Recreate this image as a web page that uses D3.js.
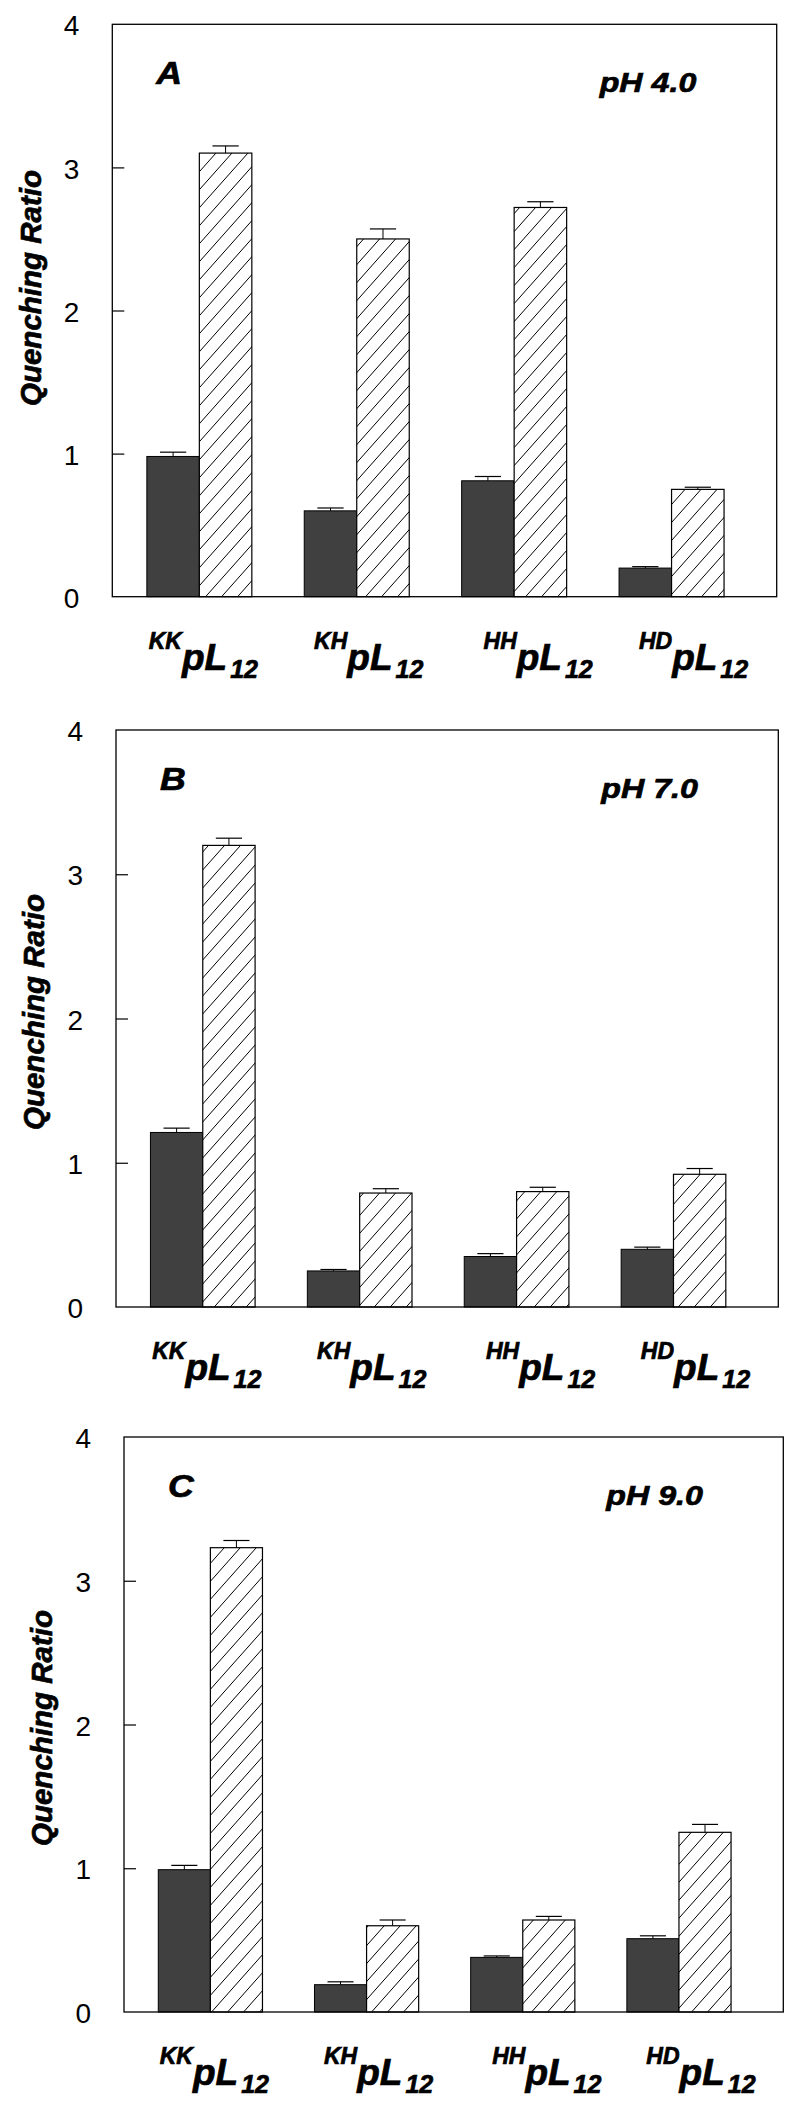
<!DOCTYPE html>
<html><head><meta charset="utf-8">
<script src="https://cdn.jsdelivr.net/npm/d3@7"></script>
<style>body{margin:0;background:#fff} text{font-family:Arial,'Liberation Sans',Helvetica,sans-serif;fill:#000} text.heavy{stroke:#000;stroke-width:0.7px}</style>
</head><body><svg id="c" width="800" height="2109"></svg>
<script>
// ---- data ----
const categories = ["KK", "KH", "HH", "HD"];
const yTicks = [0, 1, 2, 3, 4];
const panelLetters = ["A", "B", "C"];
const phLabels = ["pH 4.0", "pH 7.0", "pH 9.0"];

const darkA = [0.98, 0.60, 0.81, 0.20];
const darkAErr = [0.03, 0.02, 0.03, 0.01];
const hatchA = [3.10, 2.50, 2.72, 0.75];
const hatchAErr = [0.05, 0.07, 0.04, 0.015];

const darkB = [1.21, 0.25, 0.35, 0.40];
const darkBErr = [0.03, 0.01, 0.02, 0.015];
const hatchB = [3.20, 0.79, 0.80, 0.92];
const hatchBErr = [0.05, 0.03, 0.03, 0.04];

const darkC = [0.99, 0.19, 0.38, 0.51];
const darkCErr = [0.03, 0.02, 0.01, 0.02];
const hatchC = [3.23, 0.60, 0.64, 1.25];
const hatchCErr = [0.05, 0.04, 0.025, 0.055];

// ---- layout ----
const boxes = [
  {l: 112.3, r: 776.7, t: 24.3, b: 596.7, titleY: 288},
  {l: 116, r: 778.3, t: 730, b: 1307, titleY: 1012},
  {l: 124, r: 783.3, t: 1437, b: 2012, titleY: 1728}
];
const series = [
  {dark: darkA, darkErr: darkAErr, hatch: hatchA, hatchErr: hatchAErr},
  {dark: darkB, darkErr: darkBErr, hatch: hatchB, hatchErr: hatchBErr},
  {dark: darkC, darkErr: darkCErr, hatch: hatchC, hatchErr: hatchCErr}
];
const labelShift = [4, 12, 24, 22];
const barW = 0.3335;
const FONT = "Arial,'Liberation Sans',Helvetica,sans-serif";

const svg = d3.select("#c");
const defs = svg.append("defs");
const pat = defs.append("pattern").attr("id", "hatch")
  .attr("patternUnits", "userSpaceOnUse").attr("width", 16).attr("height", 18);
pat.append("rect").attr("width", 16).attr("height", 18).attr("fill", "#fff");
pat.append("path").attr("d", "M0,18 L16,0 M-2,2.25 L2,-2.25 M14,20.25 L18,15.75")
  .attr("stroke", "#000").attr("stroke-width", 1).attr("fill", "none");

boxes.forEach((bx, pi) => {
  const s = series[pi];
  const g = svg.append("g");
  const x = d3.scaleLinear().domain([-0.553, 3.668]).range([bx.l, bx.r]);
  const y = d3.scaleLinear().domain([0, 4]).range([bx.b, bx.t]);

  const idx = d3.range(categories.length);
  g.selectAll("rect.dark").data(idx).join("rect")
    .attr("x", i => x(i - barW)).attr("width", i => x(i) - x(i - barW))
    .attr("y", i => y(s.dark[i])).attr("height", i => y(0) - y(s.dark[i]))
    .attr("fill", "#404040").attr("stroke", "#000").attr("stroke-width", 1);
  g.selectAll("rect.hat").data(idx).join("rect")
    .attr("x", i => x(i)).attr("width", i => x(i + barW) - x(i))
    .attr("y", i => y(s.hatch[i])).attr("height", i => y(0) - y(s.hatch[i]))
    .attr("fill", "url(#hatch)").attr("stroke", "#000").attr("stroke-width", 1.2);

  const eb = [];
  idx.forEach(i => {
    eb.push({c: i - barW / 2, v: s.dark[i], e: s.darkErr[i]});
    eb.push({c: i + barW / 2, v: s.hatch[i], e: s.hatchErr[i]});
  });
  const capHalf = (x(barW) - x(0)) / 4;
  eb.forEach(d => {
    g.append("line").attr("x1", x(d.c)).attr("x2", x(d.c))
      .attr("y1", y(d.v)).attr("y2", y(d.v + d.e)).attr("stroke", "#000").attr("stroke-width", 1);
    g.append("line").attr("x1", x(d.c) - capHalf).attr("x2", x(d.c) + capHalf)
      .attr("y1", y(d.v + d.e)).attr("y2", y(d.v + d.e)).attr("stroke", "#000").attr("stroke-width", 1.2);
  });

  g.append("rect").attr("x", bx.l).attr("y", bx.t).attr("width", bx.r - bx.l).attr("height", bx.b - bx.t)
    .attr("fill", "none").attr("stroke", "#000").attr("stroke-width", 1.3);

  const ax = d3.axisLeft(y).tickValues(yTicks).tickFormat(d3.format("d")).tickSizeInner(-12).tickSizeOuter(0).tickPadding(33);
  const ag = g.append("g").attr("transform", `translate(${bx.l},0)`).call(ax);
  ag.select(".domain").remove();
  ag.selectAll(".tick line").attr("stroke", "#000").attr("stroke-width", 1.2)
    .attr("display", d => (d === 0 || d === 4) ? "none" : null);
  ag.selectAll(".tick text").attr("font-size", 28).attr("font-family", FONT).attr("fill", "#000").attr("dy", "0.38em");

  g.append("text").attr("class", "heavy").attr("transform", `translate(${bx.l - 82},${bx.titleY}) rotate(-90)`)
    .attr("text-anchor", "middle").attr("dy", "0.35em")
    .attr("font-size", 29.5).attr("font-weight", "bold").attr("font-style", "italic")
    .text("Quenching Ratio");

  g.append("text").attr("class", "heavy").attr("transform", `translate(${bx.l + 44},${bx.t + 60}) scale(1.15,1)`)
    .attr("font-size", 31).attr("font-weight", "bold").attr("font-style", "italic")
    .text(panelLetters[pi]);
  g.append("text").attr("class", "heavy").attr("transform", `translate(${bx.r - 177},${bx.t + 68}) scale(1.15,1)`)
    .attr("font-size", 28).attr("font-weight", "bold").attr("font-style", "italic")
    .text(phLabels[pi]);

  idx.forEach(i => {
    const t = g.append("text").attr("class", "heavy").attr("x", x(i) + labelShift[i]).attr("y", bx.b + 73)
      .attr("text-anchor", "middle").attr("font-weight", "bold").attr("font-style", "italic");
    t.append("tspan").attr("font-size", 23).attr("dy", -21).text(categories[i]);
    t.append("tspan").attr("font-size", 37).attr("dy", 21).text("pL");
    t.append("tspan").attr("font-size", 25).attr("dy", 8).attr("dx", 3).text("12");
  });
});
</script></body></html>
